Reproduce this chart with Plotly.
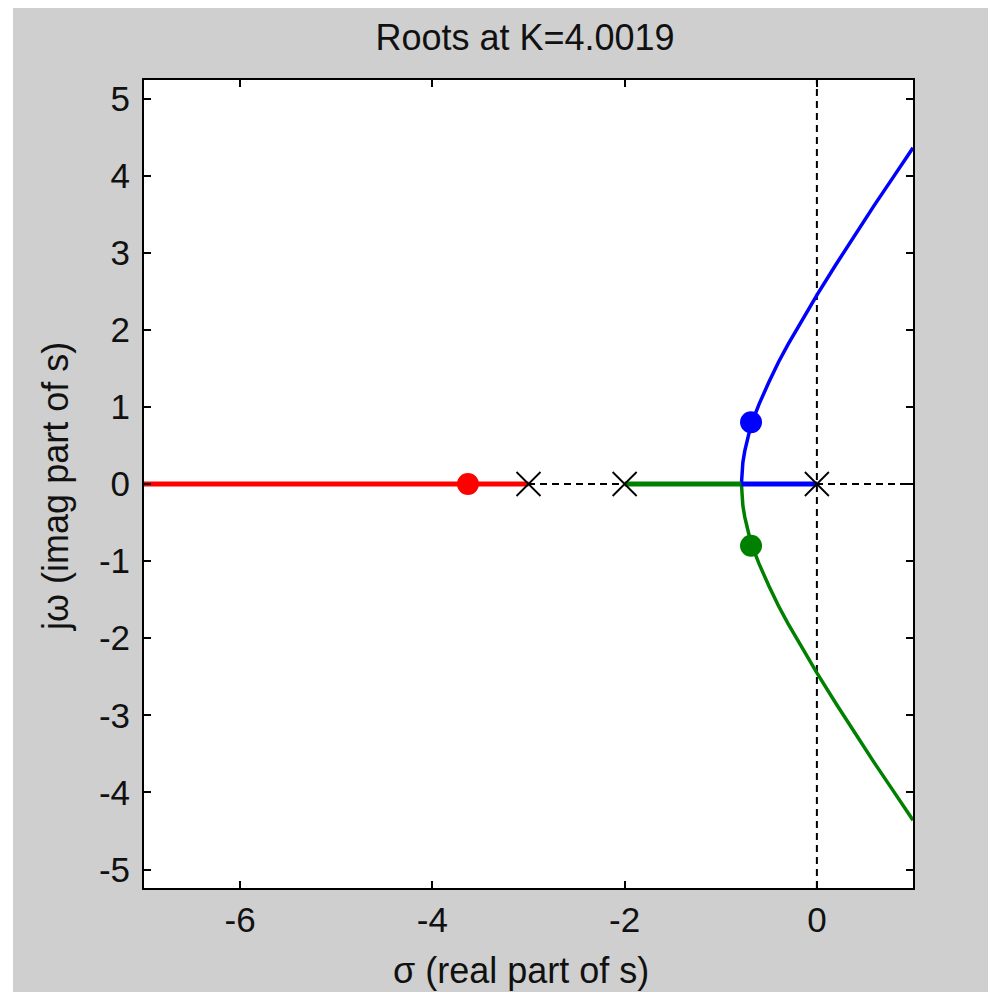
import plotly.graph_objects as go

# ---- data ----
poles_re = [-3, -2, 0]
poles_im = [0, 0, 0]

red_re = [-7.0, -3.0]
red_im = [0.0, 0.0]

blue_re = [0.0, -0.785, -0.78, -0.77, -0.75, -0.70, -0.65, -0.60, -0.50, -0.40, -0.30,
           -0.20, -0.10, 0.0, 0.2, 0.4, 0.6, 0.8, 1.0]
blue_im = [0.0, 0.0, 0.16, 0.28, 0.43, 0.69, 0.88, 1.04, 1.32, 1.58, 1.81,
           2.03, 2.24, 2.45, 2.85, 3.24, 3.62, 3.99, 4.36]

green_re = [-2.0, -0.785, -0.78, -0.77, -0.75, -0.70, -0.65, -0.60, -0.50, -0.40, -0.30,
            -0.20, -0.10, 0.0, 0.2, 0.4, 0.6, 0.8, 1.0]
green_im = [0.0, 0.0, -0.16, -0.28, -0.43, -0.69, -0.88, -1.04, -1.32, -1.58, -1.81,
            -2.03, -2.24, -2.45, -2.85, -3.24, -3.62, -3.99, -4.36]

roots_re = [-3.63, -0.685, -0.685]
roots_im = [0.0, 0.80, -0.80]
root_colors = ["#ff0000", "#0000ff", "#008000"]

x_ticks = [-6, -4, -2, 0]
x_ticktext = ["-6", "-4", "-2", "0"]
y_ticks = [-5, -4, -3, -2, -1, 0, 1, 2, 3, 4, 5]
y_ticktext = ["-5", "-4", "-3", "-2", "-1", "0", "1", "2", "3", "4", "5"]

title_text = "Roots at K=4.0019"
x_label = "σ (real part of s)"
y_label = "jω (imag part of s)"

FONT = "Liberation Sans, Arial, sans-serif"
GRAY = "#cfcfcf"
TXT = "#111111"

# page body has an 8px default margin; the figure is sized to fill the rest
OFF = 8
W, H = 996 - OFF, 992 - OFF
# plot area in page pixels: x 144..913, y 80..888
L, R, T, B = 144 - OFF, 996 - 913, 80 - OFF, 992 - 888
pw, ph = W - L - R, H - T - B


def px(xp):  # page pixel x -> paper x
    return (xp - OFF - L) / pw


def py(yp):  # page pixel y -> paper y
    return (H - B - (yp - OFF)) / ph


fig = go.Figure()

fig.add_hline(y=0, line=dict(color="black", width=2, dash="7px,5px"), layer="below")
fig.add_vline(x=0, line=dict(color="black", width=2, dash="7px,5px"), layer="below")

fig.add_trace(go.Scatter(x=red_re, y=red_im, mode="lines",
                         line=dict(color="#ff0000", width=5), hoverinfo="skip"))
# complex branches (thinner) and real-axis parts (thicker)
fig.add_trace(go.Scatter(x=green_re[1:], y=green_im[1:], mode="lines",
                         line=dict(color="#008000", width=3.5), hoverinfo="skip"))
fig.add_trace(go.Scatter(x=blue_re[1:], y=blue_im[1:], mode="lines",
                         line=dict(color="#0000ff", width=3.5), hoverinfo="skip"))
fig.add_trace(go.Scatter(x=green_re[:2], y=green_im[:2], mode="lines",
                         line=dict(color="#008000", width=5), hoverinfo="skip"))
fig.add_trace(go.Scatter(x=blue_re[:2], y=blue_im[:2], mode="lines",
                         line=dict(color="#0000ff", width=5), hoverinfo="skip"))
fig.add_trace(go.Scatter(x=poles_re, y=poles_im, mode="markers",
                         marker=dict(symbol="x-thin-open", size=24, color="black",
                                     line=dict(color="black", width=1.8)),
                         hoverinfo="skip"))
fig.add_trace(go.Scatter(x=roots_re, y=roots_im, mode="markers",
                         marker=dict(symbol="circle", size=22, color=root_colors,
                                     line=dict(width=0)),
                         hoverinfo="skip"))

# extra white strip on the left edge (reference has 13px of white)
fig.add_shape(type="rect", xref="paper", yref="paper", x0=px(0), x1=px(13),
              y0=py(1000), y1=py(0), fillcolor="white", line=dict(width=0), layer="above")

axis_common = dict(showgrid=False, zeroline=False, showline=True, linecolor="black",
                   linewidth=2, mirror="ticks", ticks="inside", ticklen=7, tickwidth=2,
                   tickcolor="black", tickfont=dict(family=FONT, size=35, color=TXT))

fig.update_xaxes(range=[-7, 1], tickvals=x_ticks, ticktext=x_ticktext, **axis_common)
fig.update_yaxes(range=[-5.24, 5.24], tickvals=y_ticks, ticktext=y_ticktext,
                 ticklabelstandoff=5, **axis_common)

fig.add_annotation(text=x_label, xref="paper", yref="paper", x=px(521), y=py(970),
                   xanchor="center", yanchor="middle", showarrow=False,
                   font=dict(family=FONT, size=36, color=TXT))
fig.add_annotation(text=y_label, xref="paper", yref="paper", x=px(55), y=py(487),
                   xanchor="center", yanchor="middle", showarrow=False, textangle=-90,
                   font=dict(family=FONT, size=36, color=TXT))

fig.update_layout(
    width=W, height=H,
    margin=dict(l=L, r=R, t=T, b=B),
    paper_bgcolor=GRAY, plot_bgcolor="white",
    showlegend=False,
    title=dict(text=title_text, x=(525 - OFF) / W, y=1 - (37 - OFF) / H,
               xref="container", yref="container",
               xanchor="center", yanchor="middle",
               font=dict(family=FONT, size=36, color=TXT)),
)

fig.write_html("out.html")
